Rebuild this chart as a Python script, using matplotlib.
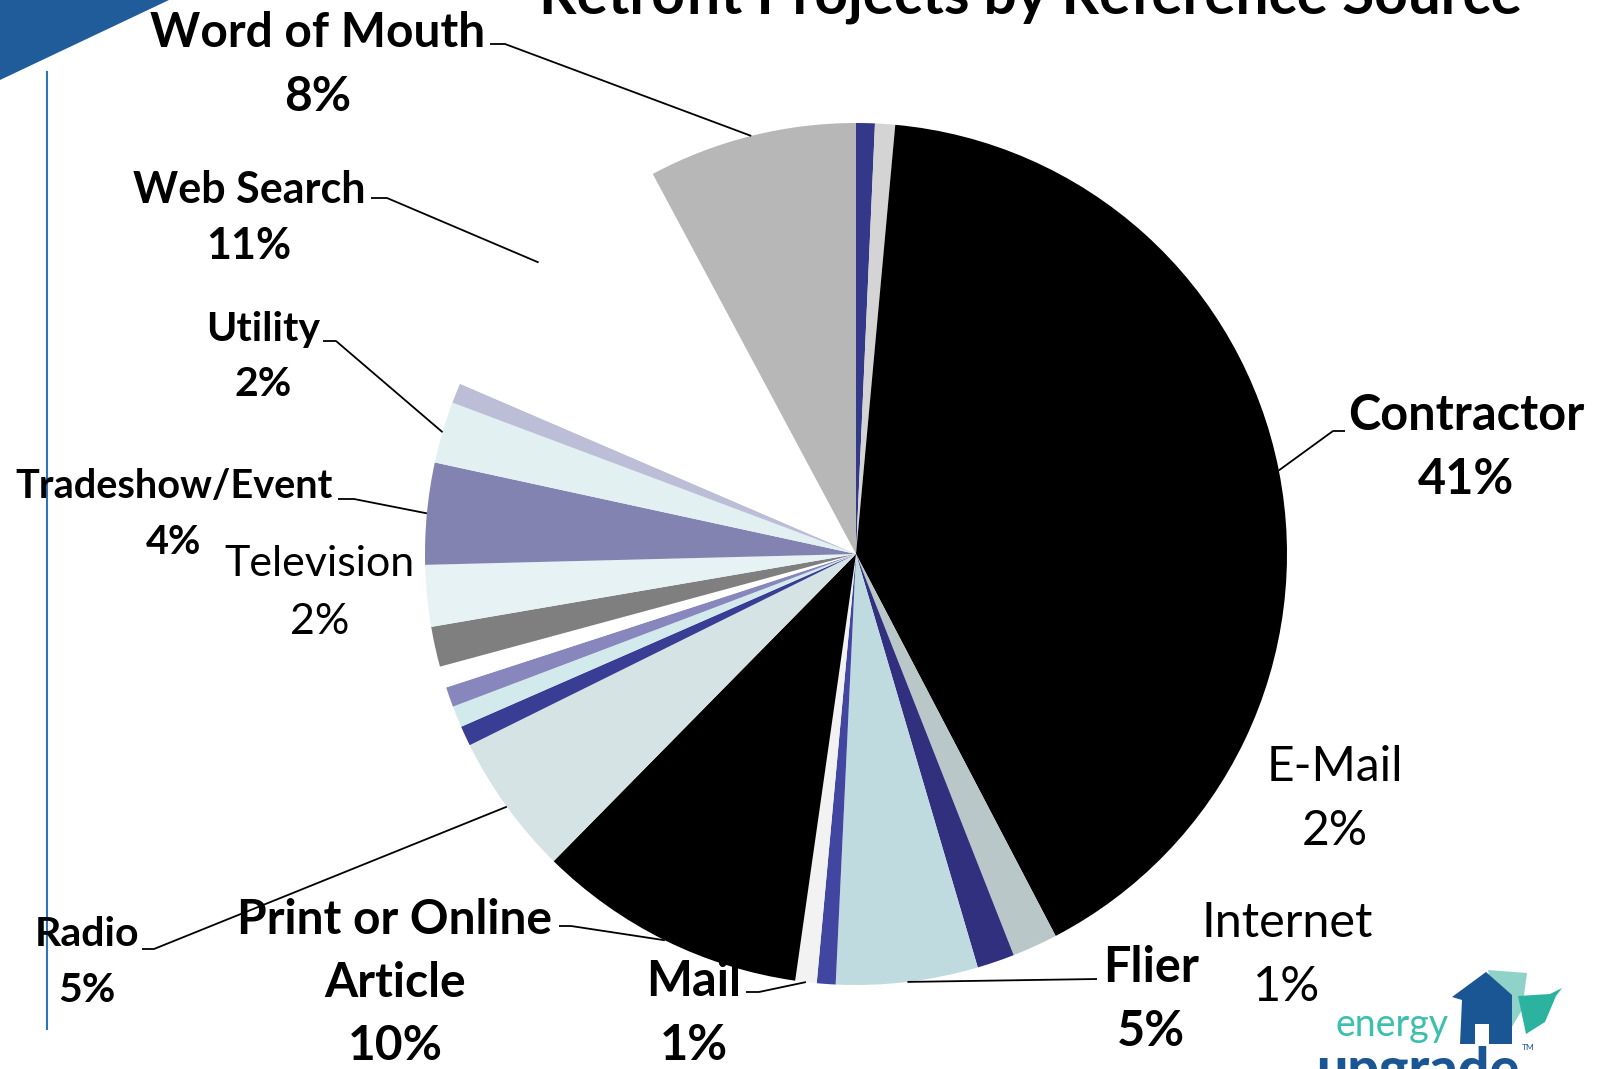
import matplotlib
matplotlib.use('Agg')
import matplotlib.pyplot as plt
from matplotlib.patches import Polygon, Rectangle
import numpy as np

plt.rcParams['font.family'] = ['Lato', 'DejaVu Sans']

W, H = 1608, 1069

# slices clockwise from 12 o'clock ('' = unlabeled sliver)
sources = ['', '', 'Contractor', 'E-Mail', 'Internet', 'Flier', '', 'Mail',
           'Print or Online\nArticle', 'Radio', '', '', '', '', '',
           'Television', 'Tradeshow/Event', 'Utility', '', 'Web Search',
           'Word of Mouth']
shares = [0.7, 0.75, 40.8, 1.7, 1.4, 5.3, 0.7, 0.8, 10.1, 5.3, 0.75, 0.8,
          0.75, 0.8, 1.5, 2.3, 3.8, 2.3, 0.75, 10.7, 7.8]
colors = ['#343888', '#d4d4d4', '#000000', '#b9c7c9', '#30307f', '#c0dbdf',
          '#4146a0', '#f2f2f2', '#000000', '#d5e3e5', '#3a3d94', '#d3eaed',
          '#8787bd', '#ffffff', '#7f7f7f', '#e6f2f4', '#8383b1', '#e2f0f2',
          '#bcbdd6', '#ffffff', '#b7b7b7']

# label layout in pixels from the top-left corner:
# x, y of first line, line gap, font size, bold, leader points (label side)
layout = {
    'Contractor': (1466, 415, 64, 35, True, [(1333, 431), (1345, 431)]),
    'E-Mail': (1335, 767, 64, 34.5, False, None),
    'Internet': (1287, 923, 64, 35, False, None),
    'Flier': (1151, 967, 64, 35, True, [(1097, 979)]),
    'Mail': (694, 982, 64, 35, True, [(759, 992), (746, 992)]),
    'Print or Online\nArticle': (395, 920, 63, 34.5, True, [(571, 926), (559, 926)]),
    'Radio': (87, 935, 55, 29.5, True, [(154, 949), (142, 949)]),
    'Television': (320, 564, 58, 31, False, None),
    'Tradeshow/Event': (174, 487, 55, 28.5, True, [(354, 499), (338, 499)]),
    'Utility': (263, 330, 55, 29.5, True, [(336, 341), (323, 341)]),
    'Web Search': (249, 190, 56, 31, True, [(387, 198), (371, 198)]),
    'Word of Mouth': (318, 33, 64, 34.5, True, [(505, 44), (490, 44)]),
}

fig = plt.figure(figsize=(W / 100, H / 100), dpi=100)
ax = fig.add_axes([0, 0, 1, 1])

cx, cy, rad = 856, H - 554, 431
wedges, _ = ax.pie(shares, colors=colors, startangle=90, counterclock=False,
                   center=(cx, cy), radius=rad,
                   wedgeprops=dict(linewidth=0))
ax.set_xlim(0, W)
ax.set_ylim(0, H)
ax.set_aspect('equal')
ax.axis('off')

total = sum(shares)
for name, val, wdg in zip(sources, shares, wedges):
    if not name:
        continue
    x0, y0, gap, fs, bold, lead = layout[name]
    lines = name.split('\n') + ['%d%%' % round(val / total * 100)]
    for i, line in enumerate(lines):
        ax.text(x0, H - (y0 + i * gap), line, ha='center', va='center',
                fontsize=fs, fontweight='bold' if bold else 'normal',
                color='black')
    if lead:
        mid = np.deg2rad((wdg.theta1 + wdg.theta2) / 2)
        xs = [cx + rad * np.cos(mid)] + [p[0] for p in lead]
        ys = [cy + rad * np.sin(mid)] + [H - p[1] for p in lead]
        ax.plot(xs, ys, color='black', lw=1.3, solid_capstyle='butt')

# title, cut off at the top edge like the slide
ax.text(1031, H - 13, 'Retrofit Projects by Reference Source', ha='center',
        va='baseline', fontsize=42, fontweight='bold', clip_on=False)

# slide decorations
ax.add_patch(Polygon([(0, H), (169, H), (0, H - 80)], closed=True,
                     color='#1f5c99', lw=0))
ax.plot([47, 47], [H - 72, H - 1029], color='#2e75b6', lw=1.5)

# energy upgrade logo
ax.add_patch(Polygon([(1488, H - 970), (1527, H - 973), (1522, H - 1010),
                      (1503, H - 1042), (1494, H - 1000)], closed=True,
                     color='#8fd3c8', lw=0))
ax.add_patch(Polygon([(1518, H - 996), (1550, H - 994), (1562, H - 988),
                      (1556, H - 996), (1545, H - 1022), (1526, H - 1034)],
                     closed=True, color='#2bb3a0', lw=0))
ax.add_patch(Polygon([(1452, H - 997), (1486, H - 972), (1512, H - 995),
                      (1512, H - 1044), (1460, H - 1044), (1462, H - 1000)],
                     closed=True, color='#1b5694', lw=0))
ax.add_patch(Rectangle((1475, H - 1044), 14, 20, color='white', lw=0))
ax.text(1336, H - 1036, 'energy', ha='left', va='baseline', fontsize=27,
        color='#3dbfad', fontweight='normal')
ax.text(1316, H - 1046, 'upgrade', ha='left', va='top', fontsize=40,
        color='#1b5694', fontweight='black')
ax.text(1522, H - 1048, 'TM', ha='left', va='center', fontsize=6,
        color='#1b5694')

fig.savefig('out.png', dpi=100)
